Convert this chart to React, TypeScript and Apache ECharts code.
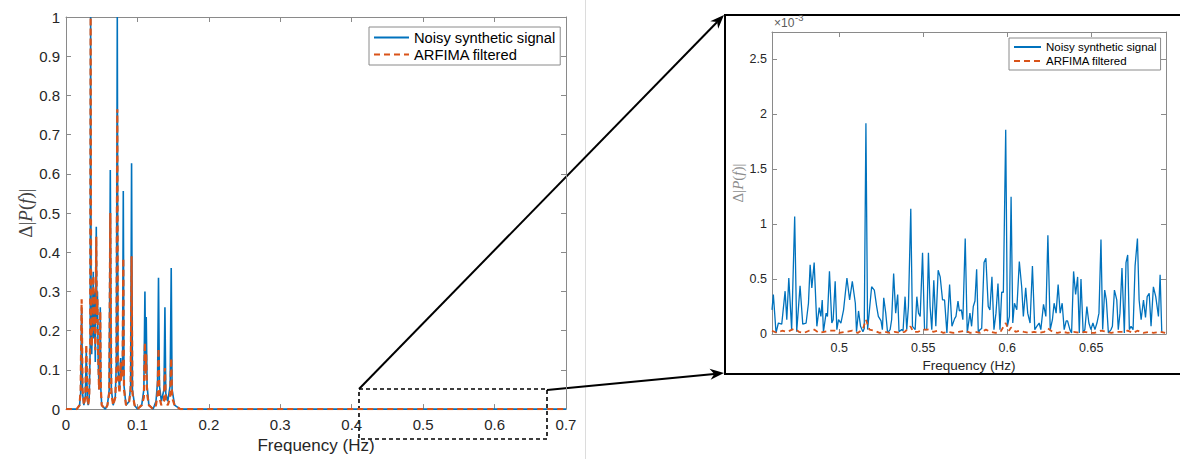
import React, { useEffect, useRef } from "react";
import * as echarts from "echarts";

// ---- Full-band spectrum (frequency in Hz, normalised |P(f)| change) ----
const mainSignal: [number, number][] = [
  [0, 0], [0.015, 0], [0.019, 0.01], [0.0205, 0.04], [0.0219, 0.26], [0.0232, 0.04],
  [0.025, 0.01], [0.027, 0.03], [0.0284, 0.15], [0.0298, 0.03], [0.031, 0.01],
  [0.0325, 0.03], [0.0338, 0.15], [0.0345, 1.0], [0.0352, 0.2], [0.036, 0.14],
  [0.037, 0.22], [0.0382, 0.35], [0.039, 0.18], [0.04, 0.3], [0.041, 0.12],
  [0.0415, 0.25], [0.0424, 0.465], [0.0432, 0.22], [0.044, 0.3], [0.045, 0.13],
  [0.0463, 0.05], [0.0473, 0.08], [0.048, 0.26], [0.0488, 0.05], [0.05, 0.01],
  [0.055, 0], [0.058, 0.01], [0.0605, 0.05], [0.062, 0.61], [0.0635, 0.05],
  [0.066, 0.01], [0.069, 0.03], [0.0705, 0.12], [0.0718, 1.0], [0.0728, 0.1],
  [0.075, 0.05], [0.0765, 0.13], [0.077, 0.08], [0.0778, 0.12], [0.0792, 0.1],
  [0.0802, 0.556], [0.0812, 0.06], [0.084, 0.01], [0.0885, 0.02], [0.0905, 0.06],
  [0.0918, 0.627], [0.093, 0.05], [0.096, 0.01], [0.1, 0], [0.106, 0.01],
  [0.109, 0.05], [0.1105, 0.3], [0.1114, 0.12], [0.1123, 0.235], [0.1135, 0.06],
  [0.116, 0.01], [0.122, 0], [0.126, 0.02], [0.1282, 0.07], [0.1295, 0.335],
  [0.1308, 0.06], [0.1335, 0.02], [0.1372, 0.05], [0.1385, 0.26], [0.1397, 0.04],
  [0.1425, 0.02], [0.1458, 0.06], [0.1473, 0.36], [0.1485, 0.05], [0.152, 0.01],
  [0.16, 0], [0.7, 0],
];

const mainFiltered: [number, number][] = [
  [0, 0], [0.015, 0], [0.019, 0.01], [0.0205, 0.05], [0.0219, 0.28], [0.0232, 0.05],
  [0.025, 0.01], [0.027, 0.03], [0.0284, 0.165], [0.0298, 0.03], [0.031, 0.01],
  [0.0325, 0.03], [0.0338, 0.17], [0.0345, 1.0], [0.0352, 0.2], [0.036, 0.16],
  [0.037, 0.24], [0.0382, 0.34], [0.039, 0.2], [0.04, 0.29], [0.041, 0.15],
  [0.0415, 0.26], [0.0424, 0.44], [0.0432, 0.24], [0.044, 0.28], [0.045, 0.14],
  [0.0463, 0.05], [0.0473, 0.08], [0.048, 0.25], [0.0488, 0.05], [0.05, 0.01],
  [0.055, 0], [0.058, 0.01], [0.0605, 0.04], [0.062, 0.5], [0.0635, 0.04],
  [0.066, 0.01], [0.069, 0.03], [0.0705, 0.1], [0.0718, 0.765], [0.0728, 0.08],
  [0.075, 0.04], [0.0765, 0.12], [0.077, 0.07], [0.0778, 0.1], [0.0792, 0.08],
  [0.0802, 0.385], [0.0812, 0.05], [0.084, 0.01], [0.0885, 0.02], [0.0905, 0.05],
  [0.0918, 0.39], [0.093, 0.04], [0.096, 0.01], [0.1, 0], [0.106, 0.01],
  [0.109, 0.03], [0.1105, 0.17], [0.1114, 0.09], [0.1123, 0.14], [0.1135, 0.04],
  [0.116, 0.01], [0.122, 0], [0.126, 0.01], [0.1282, 0.04], [0.1295, 0.155],
  [0.1308, 0.03], [0.1335, 0.01], [0.1372, 0.02], [0.1385, 0.105], [0.1397, 0.02],
  [0.1425, 0.01], [0.1458, 0.03], [0.1473, 0.13], [0.1485, 0.03], [0.152, 0.01],
  [0.16, 0], [0.7, 0],
];

// ---- High-frequency detail, values in units of 1e-3 ----
const zoomSignalE3: [number, number][] = [
  [0.46, 0.22], [0.4608, 0.36], [0.4624, 0.01], [0.4638, 0.1], [0.4658, 0.09], [0.4678, 0.39],
  [0.4688, 0.13], [0.47, 0.51], [0.4717, 0.04], [0.4735, 1.07], [0.4747, 0.02], [0.4767, 0.44],
  [0.4783, 0.09], [0.4803, 0.1], [0.4817, 0.28], [0.4827, 0.63], [0.4837, 0.42], [0.4851, 0.65],
  [0.4867, 0.07], [0.4881, 0.24], [0.4891, 0.16], [0.4899, 0.31], [0.4906, 0.02], [0.4922, 0.19],
  [0.493, 0.16], [0.4942, 0.57], [0.4956, 0.1], [0.4964, 0.13], [0.4976, 0.48], [0.4986, 0.04],
  [0.4996, 0.13], [0.501, 0.1], [0.5026, 0.22], [0.5046, 0.51], [0.5062, 0.31], [0.5078, 0.48],
  [0.5096, 0.28], [0.5103, 0.02], [0.5115, 0.21], [0.5127, 0.07], [0.5141, 0.02], [0.5149, 0.05],
  [0.5159, 1.92], [0.5169, 0.04], [0.5193, 0.43], [0.5209, 0.4], [0.5223, 0.25], [0.5233, 0.16],
  [0.5249, 0.12], [0.5257, 0.04], [0.5265, 0.33], [0.5277, 0.19], [0.5288, 0.01], [0.5303, 0.04],
  [0.5312, 0.13], [0.5324, 0.55], [0.5336, 0.19], [0.5348, 0.36], [0.5356, 0.02], [0.5372, 0.04],
  [0.538, 0.03], [0.5392, 0.34], [0.5402, 0.04], [0.5412, 0.25], [0.5426, 1.14], [0.5436, 0.07],
  [0.5452, 0.04], [0.5462, 0.34], [0.5472, 0.19], [0.5482, 0.16], [0.5496, 0.74], [0.5508, 0.04],
  [0.5521, 0.04], [0.5531, 0.74], [0.5541, 0.25], [0.5551, 0.04], [0.5563, 0.49], [0.5575, 0.07],
  [0.5589, 0.58], [0.5601, 0.52], [0.5615, 0.31], [0.5627, 0.31], [0.5641, 0.01], [0.5657, 0.45],
  [0.5671, 0.07], [0.5687, 0.14], [0.5695, 0.16], [0.5707, 0.3], [0.5715, 0.21], [0.5727, 0.22],
  [0.5736, 0.13], [0.575, 0.87], [0.5762, 0.01], [0.5778, 0.19], [0.5788, 0.07], [0.5798, 0.25],
  [0.5808, 0.3], [0.5818, 0.59], [0.5828, 0.01], [0.5838, 0.04], [0.5848, 0.05], [0.5862, 0.65],
  [0.5873, 0.69], [0.5887, 0.25], [0.5897, 0.22], [0.5909, 0.52], [0.5921, 0.04], [0.5933, 0.19],
  [0.5945, 0.46], [0.5957, 0.04], [0.5967, 0.38], [0.5977, 0.38], [0.5991, 1.86], [0.6001, 0.07],
  [0.6013, 0.16], [0.6023, 1.25], [0.6033, 0.1], [0.6043, 0.28], [0.6057, 0.22], [0.6072, 0.66],
  [0.6086, 0.43], [0.6096, 0.16], [0.611, 0.42], [0.6122, 0.19], [0.6136, 0.1], [0.615, 0.62],
  [0.6164, 0.04], [0.6176, 0.07], [0.619, 0.1], [0.62, 0.04], [0.6216, 0.27], [0.623, 0.16],
  [0.6242, 0.9], [0.6256, 0.04], [0.6269, 0.13], [0.6279, 0.28], [0.6291, 0.19], [0.6303, 0.45],
  [0.6315, 0.19], [0.6327, 0.28], [0.6339, 0.04], [0.6351, 0.12], [0.6359, 0.12], [0.6373, 0.04],
  [0.6383, 0.01], [0.6395, 0.57], [0.6407, 0.36], [0.6419, 0.52], [0.6429, 0.01], [0.6439, 0.5],
  [0.6452, 0.01], [0.6462, 0.04], [0.6474, 0.25], [0.6486, 0.1], [0.6498, 0.04], [0.651, 0.1],
  [0.6522, 0.04], [0.6534, 0.1], [0.6546, 0.19], [0.6558, 0.86], [0.6568, 0.04], [0.658, 0.4],
  [0.659, 0.31], [0.6602, 0.01], [0.6618, 0.04], [0.6626, 0.07], [0.6638, 0.4], [0.6652, 0.31],
  [0.6661, 0.04], [0.6671, 0.19], [0.6683, 0.6], [0.6697, 0.01], [0.6707, 0.65], [0.6717, 0.72],
  [0.6727, 0.04], [0.6737, 0.07], [0.6749, 0.04], [0.6761, 0.62], [0.6775, 0.87], [0.6785, 0.31],
  [0.6797, 0.13], [0.6811, 0.31], [0.6823, 0.15], [0.6833, 0.34], [0.6845, 0.37], [0.6856, 0.07],
  [0.687, 0.43], [0.6884, 0.34], [0.69, 0.16], [0.691, 0.54], [0.692, 0.01],
];

const zoomFilteredE3: [number, number][] = [
  [0.46, 0.03], [0.463, 0.01], [0.466, 0.03], [0.469, 0.02], [0.472, 0.04], [0.4735, 0.05],
  [0.476, 0.02], [0.479, 0.01], [0.482, 0.03], [0.4851, 0.04], [0.488, 0.01], [0.491, 0.02],
  [0.4942, 0.03], [0.4976, 0.03], [0.5, 0.01], [0.504, 0.02], [0.5078, 0.03], [0.511, 0.01],
  [0.514, 0.04], [0.5159, 0.13], [0.518, 0.04], [0.521, 0.03], [0.524, 0.01], [0.527, 0.02],
  [0.53, 0.01], [0.533, 0.02], [0.536, 0.01], [0.539, 0.02], [0.5424, 0.07], [0.544, 0.02],
  [0.547, 0.02], [0.5496, 0.04], [0.5531, 0.04], [0.556, 0.02], [0.559, 0.03], [0.562, 0.01],
  [0.565, 0.02], [0.568, 0.01], [0.571, 0.02], [0.575, 0.03], [0.578, 0.01], [0.581, 0.02],
  [0.584, 0.01], [0.5873, 0.04], [0.59, 0.02], [0.593, 0.01], [0.596, 0.02], [0.5991, 0.1],
  [0.601, 0.03], [0.6023, 0.06], [0.605, 0.02], [0.6072, 0.03], [0.61, 0.02], [0.613, 0.01],
  [0.616, 0.02], [0.619, 0.01], [0.622, 0.02], [0.6242, 0.05], [0.627, 0.02], [0.63, 0.01],
  [0.633, 0.02], [0.636, 0.01], [0.6395, 0.02], [0.643, 0.01], [0.646, 0.02], [0.649, 0.01],
  [0.652, 0.01], [0.6558, 0.03], [0.659, 0.02], [0.662, 0.01], [0.665, 0.02], [0.6683, 0.02],
  [0.6717, 0.03], [0.675, 0.01], [0.6775, 0.03], [0.681, 0.01], [0.6845, 0.02], [0.687, 0.01],
  [0.691, 0.02], [0.694, 0.01],
];

const zoomTickValues = [0.5, 0.55, 0.6, 0.65];
const zoomYTickValues = [0, 0.5, 1, 1.5, 2, 2.5];
const seriesNames = ["Noisy synthetic signal", "ARFIMA filtered"];

const BLUE = "#0072BD";
const ORANGE = "#D95319";
const AXIS = "#8a8a8a";
const LABEL = "#262626";
const SANS = "'Liberation Sans', Arial, Helvetica, sans-serif";
const SERIF = "'Liberation Serif', 'DejaVu Serif', serif";

// Arrow shaft + filled head pointing at (x2, y2)
function arrow(x1: number, y1: number, x2: number, y2: number) {
  const len = 14;
  const half = 5.5;
  const dx = x2 - x1;
  const dy = y2 - y1;
  const d = Math.hypot(dx, dy);
  const ux = dx / d;
  const uy = dy / d;
  const bx = x2 - ux * len;
  const by = y2 - uy * len;
  const nx = -uy;
  const ny = ux;
  const notchX = x2 - ux * len * 0.7;
  const notchY = y2 - uy * len * 0.7;
  return [
    {
      type: "line",
      shape: { x1, y1, x2: notchX, y2: notchY },
      style: { stroke: "#000", lineWidth: 2 },
    },
    {
      type: "polygon",
      shape: {
        points: [
          [x2, y2],
          [bx + nx * half, by + ny * half],
          [notchX, notchY],
          [bx - nx * half, by - ny * half],
        ],
      },
      style: { fill: "#000" },
    },
  ];
}

// A boxed axis pair: the labelled side plus a mirrored, unlabelled side with inward ticks
function boxAxes(grid: number, min: number, max: number, extra: any, fontSize: number) {
  const common = {
    gridIndex: grid,
    type: "value",
    min,
    max,
    splitLine: { show: false },
    axisLine: { show: true, onZero: false, lineStyle: { color: AXIS, width: 1 } },
  };
  return [
    {
      ...common,
      ...extra,
      position: extra.position,
      axisTick: { show: true, inside: true, length: 5, lineStyle: { color: AXIS }, ...(extra.axisTick || {}) },
      axisLabel: {
        color: LABEL,
        fontFamily: SANS,
        fontSize,
        ...(extra.axisLabel || {}),
      },
    },
    {
      ...common,
      interval: extra.interval,
      position: extra.position === "bottom" ? "top" : extra.position === "left" ? "right" : undefined,
      axisTick: { show: true, inside: true, length: 5, lineStyle: { color: AXIS }, ...(extra.axisTick || {}) },
      axisLabel: { show: false },
    },
  ];
}

export default function App() {
  const ref = useRef<HTMLDivElement>(null);

  useEffect(() => {
    if (!ref.current) return;
    const chart = echarts.init(ref.current, undefined, { renderer: "svg" });

    const mainX = boxAxes(0, 0, 0.7, {
      position: "bottom",
      interval: 0.1,
      axisLabel: { margin: 8 },
      name: "Frequency (Hz)",
      nameLocation: "middle",
      nameGap: 25,
      nameTextStyle: { fontFamily: SANS, fontSize: 17, color: LABEL },
    }, 15);
    const mainY = boxAxes(0, 0, 1, {
      position: "left",
      interval: 0.1,
      axisLabel: { margin: 6 },
      name: "{n|Δ|}{i|P}{n|(}{i|f}{n|)|}",
      nameLocation: "middle",
      nameGap: 31,
      nameTextStyle: {
        rich: {
          n: { fontFamily: SERIF, fontSize: 19, color: "#404040" },
          i: { fontFamily: SERIF, fontSize: 19, fontStyle: "italic", color: "#404040" },
        },
      },
    }, 15);
    const zoomX = boxAxes(1, 0.46, 0.6945, {
      position: "bottom",
      axisTick: { customValues: zoomTickValues },
      axisLabel: { margin: 7, customValues: zoomTickValues },
      name: "Frequency (Hz)",
      nameLocation: "middle",
      nameGap: 21,
      nameTextStyle: { fontFamily: SANS, fontSize: 13.5, color: LABEL },
    }, 12.5);
    const zoomY = boxAxes(1, 0, 2.75, {
      position: "left",
      axisTick: { customValues: zoomYTickValues },
      axisLabel: { margin: 5, customValues: zoomYTickValues },
      name: "{n|Δ|}{i|P}{n|(}{i|f}{n|)|}",
      nameLocation: "middle",
      nameGap: 26,
      nameTextStyle: {
        rich: {
          n: { fontFamily: SERIF, fontSize: 15, color: "#8c8c8c" },
          i: { fontFamily: SERIF, fontSize: 15, fontStyle: "italic", color: "#8c8c8c" },
        },
      },
    }, 12.5);

    const legendBase = {
      orient: "vertical",
      data: seriesNames,
      backgroundColor: "#fff",
      borderColor: "#8a8a8a",
      borderWidth: 1,
      borderRadius: 0,
      selectedMode: false,
      // keep only the line sample, no point marker
      itemStyle: { opacity: 0 },
    };

    chart.setOption({
      animation: false,
      backgroundColor: "#fff",
      grid: [
        { left: 66, top: 17, width: 500, height: 395 },
        { left: 772, top: 32, width: 394, height: 302 },
      ],
      xAxis: [...mainX, ...zoomX],
      yAxis: [...mainY, ...zoomY],
      legend: [
        {
          ...legendBase,
          left: 369,
          top: 27,
          padding: [3, 5, 3, 4],
          itemGap: 2,
          itemWidth: 35,
          itemHeight: 14,
          textStyle: { fontFamily: SANS, fontSize: 14.7, color: "#000" },
        },
        {
          ...legendBase,
          left: 1009,
          top: 38,
          padding: [3, 4, 3, 4],
          itemGap: 2,
          itemWidth: 27,
          itemHeight: 11,
          textStyle: { fontFamily: SANS, fontSize: 11.5, color: "#000" },
        },
      ],
      series: [
        {
          name: seriesNames[0],
          type: "line",
          xAxisIndex: 0,
          yAxisIndex: 0,
          data: mainSignal,
          showSymbol: false,
          symbol: "none",
          lineStyle: { color: BLUE, width: 1.6 },
          itemStyle: { color: BLUE },
          z: 2,
        },
        {
          name: seriesNames[1],
          type: "line",
          xAxisIndex: 0,
          yAxisIndex: 0,
          data: mainFiltered,
          showSymbol: false,
          symbol: "none",
          lineStyle: { color: ORANGE, width: 2.2, type: [6, 4] },
          itemStyle: { color: ORANGE },
          z: 3,
        },
        {
          name: seriesNames[0],
          type: "line",
          xAxisIndex: 2,
          yAxisIndex: 2,
          data: zoomSignalE3,
          showSymbol: false,
          symbol: "none",
          lineStyle: { color: BLUE, width: 1.3 },
          itemStyle: { color: BLUE },
          z: 2,
        },
        {
          name: seriesNames[1],
          type: "line",
          xAxisIndex: 2,
          yAxisIndex: 2,
          data: zoomFilteredE3,
          showSymbol: false,
          symbol: "none",
          lineStyle: { color: ORANGE, width: 1.8, type: [5, 4] },
          itemStyle: { color: ORANGE },
          z: 3,
        },
      ],
      graphic: [
        {
          type: "line",
          shape: { x1: 585.5, y1: 0, x2: 585.5, y2: 459 },
          style: { stroke: "#dcdcdc", lineWidth: 1 },
        },
        {
          type: "rect",
          shape: { x: 359, y: 389, width: 188, height: 50 },
          style: { fill: "none", stroke: "#000", lineWidth: 1.6, lineDash: [4, 3] },
        },
        {
          type: "rect",
          shape: { x: 725, y: 15, width: 470, height: 359 },
          style: { fill: "none", stroke: "#000", lineWidth: 2 },
        },
        ...arrow(359, 389, 724, 15),
        ...arrow(547, 390, 724, 373),
        {
          type: "text",
          x: 774,
          y: 17,
          style: { text: "×10", fill: "#5a5a5a", fontFamily: SANS, fontSize: 12 },
        },
        {
          type: "text",
          x: 795,
          y: 12,
          style: { text: "-3", fill: "#5a5a5a", fontFamily: SANS, fontSize: 9.5 },
        },
      ],
    });

    return () => chart.dispose();
  }, []);

  return (
    <div
      ref={ref}
      style={{ position: "absolute", left: 0, top: 0, width: 1180, height: 459, background: "#fff" }}
    />
  );
}
